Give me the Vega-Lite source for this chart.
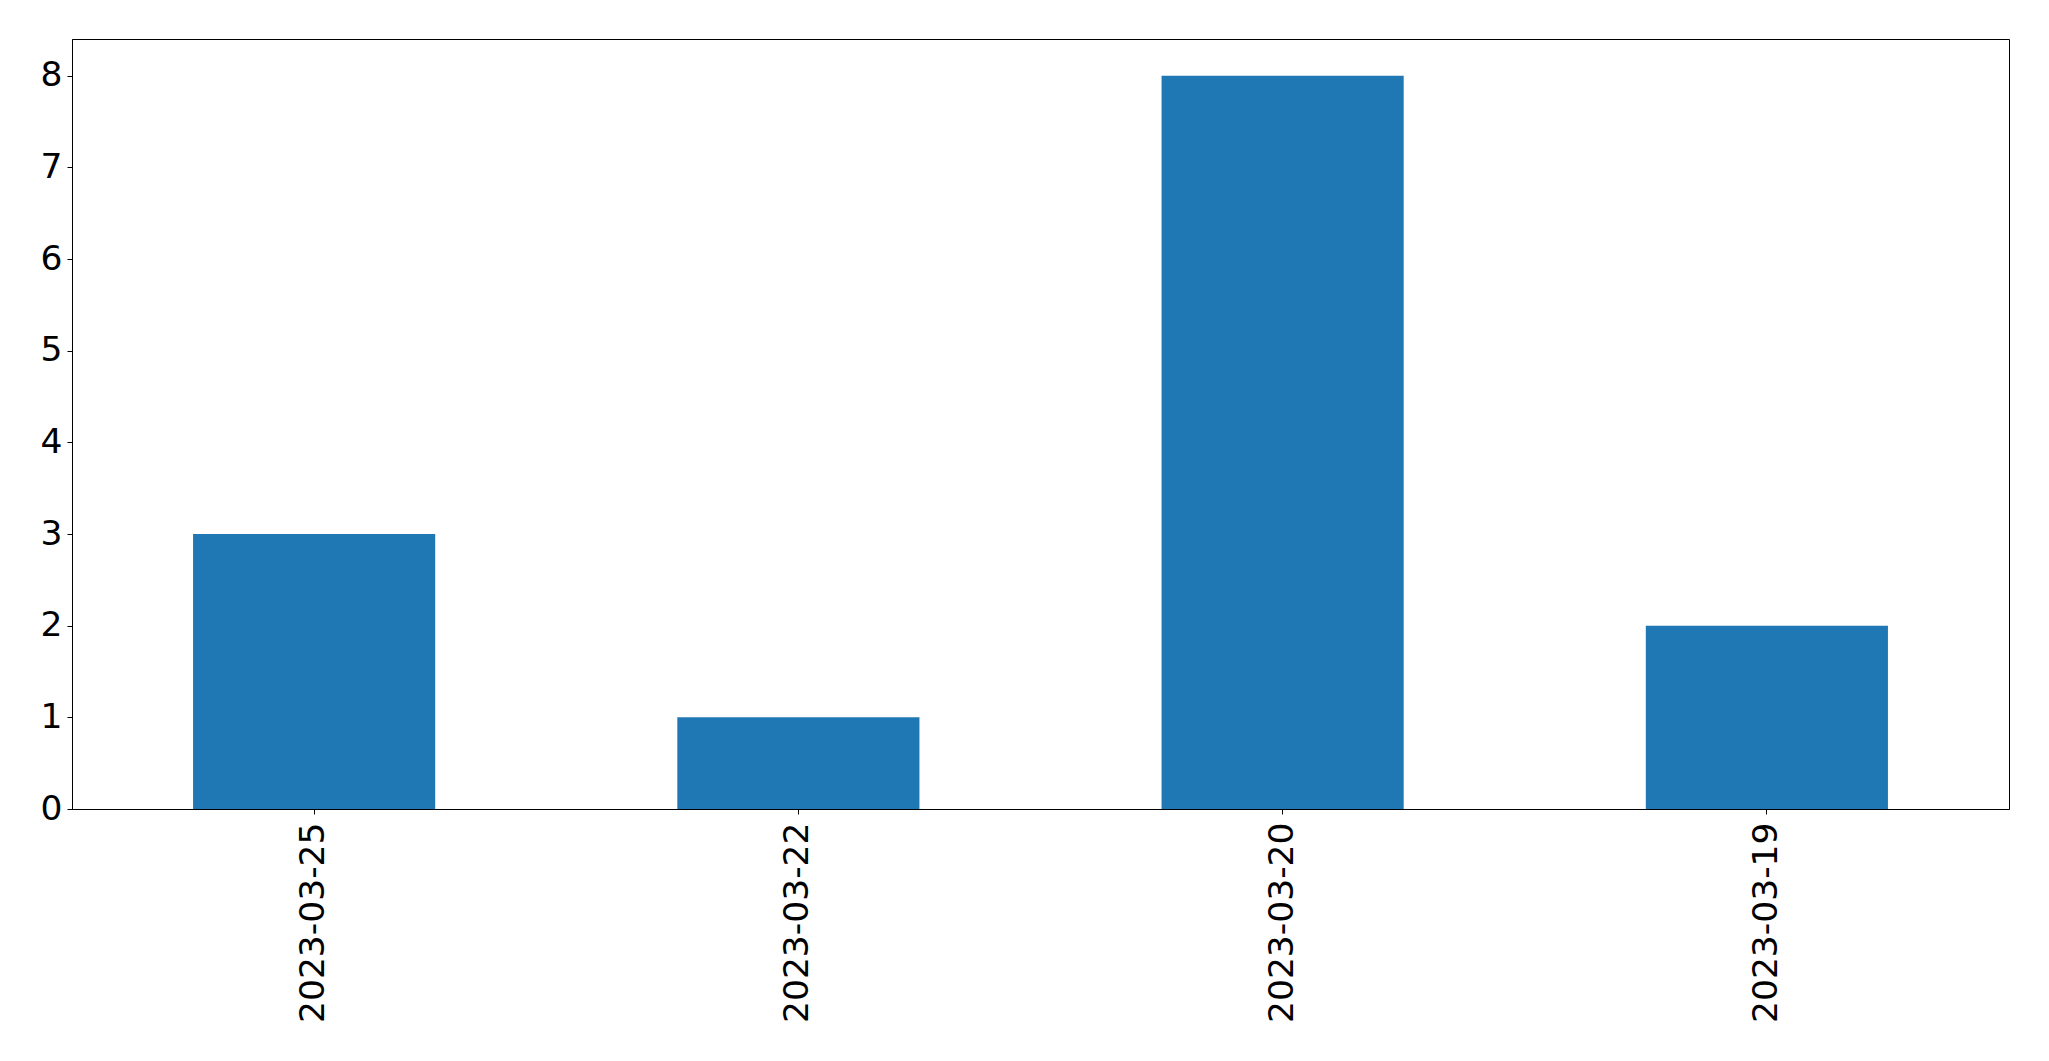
{
  "$schema": "https://vega.github.io/schema/vega-lite/v6.json",
  "autosize": {"type": "none"},
  "padding": {"left": 72, "top": 39, "right": 40, "bottom": 252},
  "width": 1937,
  "height": 770,
  "background": "white",
  "data": {"values": [
    {"date": "2023-03-25", "count": 3},
    {"date": "2023-03-22", "count": 1},
    {"date": "2023-03-20", "count": 8},
    {"date": "2023-03-19", "count": 2}
  ]},
  "mark": {"type": "bar", "color": "#1f77b4"},
  "encoding": {
    "x": {
      "field": "date", "type": "nominal", "sort": null,
      "scale": {"paddingInner": 0.5, "paddingOuter": 0.25},
      "axis": {"title": null, "labelAngle": -90, "labelLimit": 0, "labelFontSize": 34.5, "labelFont": "DejaVu Sans", "labelColor": "black", "tickColor": "black", "tickSize": 5, "labelPadding": 8, "domainColor": "black", "domainWidth": 1, "tickWidth": 1}
    },
    "y": {
      "field": "count", "type": "quantitative",
      "scale": {"domain": [0, 8.4], "nice": false},
      "axis": {"title": null, "values": [0,1,2,3,4,5,6,7,8], "labelFontSize": 34.5, "labelFont": "DejaVu Sans", "labelColor": "black", "tickColor": "black", "tickSize": 5, "labelPadding": 5, "grid": false, "domainColor": "black", "domainWidth": 1, "tickWidth": 1}
    }
  },
  "config": {
    "view": {"stroke": "black", "strokeWidth": 1}
  }
}
